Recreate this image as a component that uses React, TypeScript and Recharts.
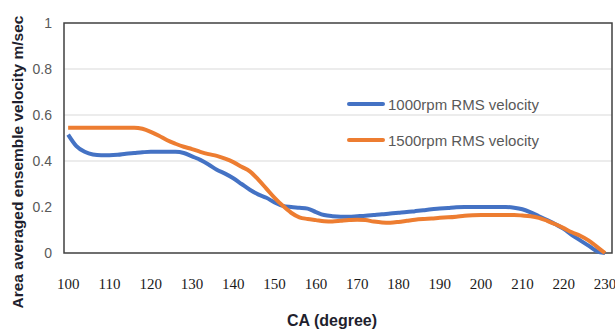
import { LineChart, Line, XAxis, YAxis, CartesianGrid, ReferenceArea, Legend } from 'recharts';

// crank angle (degree)
const crankAngles = [
  100, 102, 104, 106, 108, 110, 112, 114, 116, 118, 120, 122, 124, 126, 128, 130, 132, 134, 136, 138,
  140, 142, 144, 146, 148, 150, 152, 154, 156, 158, 160, 162, 164, 166, 168, 170, 172, 174, 176, 178,
  180, 182, 184, 186, 188, 190, 192, 194, 196, 198, 200, 202, 204, 206, 208, 210, 212, 214, 216, 218,
  220, 222, 224, 226, 228, 230,
];

const rms1000 = [
  0.515, 0.465, 0.44, 0.428, 0.425, 0.425, 0.427, 0.432, 0.435, 0.438, 0.44, 0.44, 0.44, 0.44, 0.435, 0.42, 0.405, 0.385, 0.362, 0.345,
  0.325, 0.3, 0.275, 0.255, 0.24, 0.22, 0.205, 0.2, 0.197, 0.193, 0.178, 0.165, 0.16, 0.158, 0.158, 0.16, 0.162, 0.165, 0.168, 0.172,
  0.175, 0.178, 0.182, 0.186, 0.19, 0.193, 0.196, 0.199, 0.2, 0.2, 0.2, 0.2, 0.2, 0.2, 0.197, 0.19, 0.177, 0.16, 0.143, 0.125,
  0.105, 0.078, 0.055, 0.032, 0.008, 0.0,
];

const rms1500 = [
  0.545, 0.545, 0.545, 0.545, 0.545, 0.545, 0.545, 0.545, 0.545, 0.54, 0.527, 0.51, 0.49, 0.475, 0.462, 0.452, 0.44, 0.43, 0.422, 0.41,
  0.395, 0.375, 0.355, 0.32, 0.28, 0.24, 0.205, 0.175, 0.155, 0.148, 0.143, 0.138, 0.137, 0.14, 0.143, 0.145, 0.143, 0.137, 0.133, 0.132,
  0.135, 0.14, 0.145, 0.148, 0.15, 0.153, 0.155, 0.158, 0.162, 0.164, 0.165, 0.165, 0.165, 0.165, 0.165, 0.163, 0.16, 0.153, 0.14, 0.125,
  0.108, 0.09, 0.075, 0.055, 0.028, 0.0,
];

const xTicks = [100, 110, 120, 130, 140, 150, 160, 170, 180, 190, 200, 210, 220, 230];
const yTicks = [0, 0.2, 0.4, 0.6, 0.8, 1];
const gridValues = [0.4, 0.6, 0.8];

const data = crankAngles.map((ca, i) => ({ ca, rms1000: rms1000[i], rms1500: rms1500[i] }));

const sans = '"Liberation Sans", Arial, sans-serif';

function LegendBox({ payload }: any) {
  return (
    <div>
      {(payload || []).map((p: any) => (
        <div key={p.value} style={{ display: 'flex', alignItems: 'center', height: 36 }}>
          <span style={{ width: 38, height: 4, background: p.color, borderRadius: 2, marginRight: 3 }} />
          <span style={{ fontFamily: sans, fontSize: 15, color: '#595959' }}>{p.value}</span>
        </div>
      ))}
    </div>
  );
}

export default function App() {
  return (
    <div style={{ position: 'absolute', left: 0, top: 0, width: 615, height: 331, background: '#fff' }}>
      <LineChart width={615} height={331} data={data} margin={{ top: 23, right: 3, bottom: 0, left: 0 }}>
        <CartesianGrid vertical={false} horizontalValues={gridValues} stroke="#d9d9d9" strokeWidth={1} />
        <XAxis
          dataKey="ca"
          type="number"
          domain={[99, 231.7]}
          ticks={xTicks}
          interval={0}
          height={78}
          axisLine={false}
          tickLine={false}
          tickSize={0}
          tickMargin={25}
          tick={{ fontFamily: '"Liberation Serif", "Times New Roman", serif', fontSize: 15, fill: '#1a1a1a' }}
        />
        <YAxis
          type="number"
          domain={[0, 1]}
          ticks={yTicks}
          interval={0}
          width={64}
          axisLine={false}
          tickLine={false}
          tickSize={0}
          tickMargin={12}
          tickFormatter={(v: number) => (v === 0 || v === 1 ? String(v) : v.toFixed(1))}
          tick={{ fontFamily: sans, fontSize: 14, fill: '#595959' }}
        />
        <ReferenceArea
          x1={99}
          x2={231.7}
          y1={0}
          y2={1}
          ifOverflow="visible"
          fill="none"
          fillOpacity={0}
          stroke="#404040"
          strokeWidth={1.5}
        />
        <Legend
          layout="vertical"
          verticalAlign="middle"
          align="center"
          wrapperStyle={{ left: 347, top: 86, width: 230 }}
          content={<LegendBox />}
        />
        <Line
          type="monotone"
          dataKey="rms1000"
          name="1000rpm RMS velocity"
          stroke="#4472C4"
          strokeWidth={4}
          dot={false}
          isAnimationActive={false}
        />
        <Line
          type="monotone"
          dataKey="rms1500"
          name="1500rpm RMS velocity"
          stroke="#ED7D31"
          strokeWidth={4}
          dot={false}
          isAnimationActive={false}
        />
      </LineChart>
      <div
        style={{
          position: 'absolute',
          left: 18,
          top: 162,
          transform: 'translate(-50%, -50%) rotate(-90deg)',
          whiteSpace: 'nowrap',
          fontFamily: sans,
          fontWeight: 'bold',
          fontSize: 15.5,
          color: '#1f1f2e',
        }}
      >
        Area averaged ensemble velocity m/sec
      </div>
      <div
        style={{
          position: 'absolute',
          left: 332,
          top: 321,
          transform: 'translate(-50%, -50%)',
          whiteSpace: 'nowrap',
          fontFamily: sans,
          fontWeight: 'bold',
          fontSize: 16,
          color: '#1f1f2e',
        }}
      >
        CA (degree)
      </div>
    </div>
  );
}
